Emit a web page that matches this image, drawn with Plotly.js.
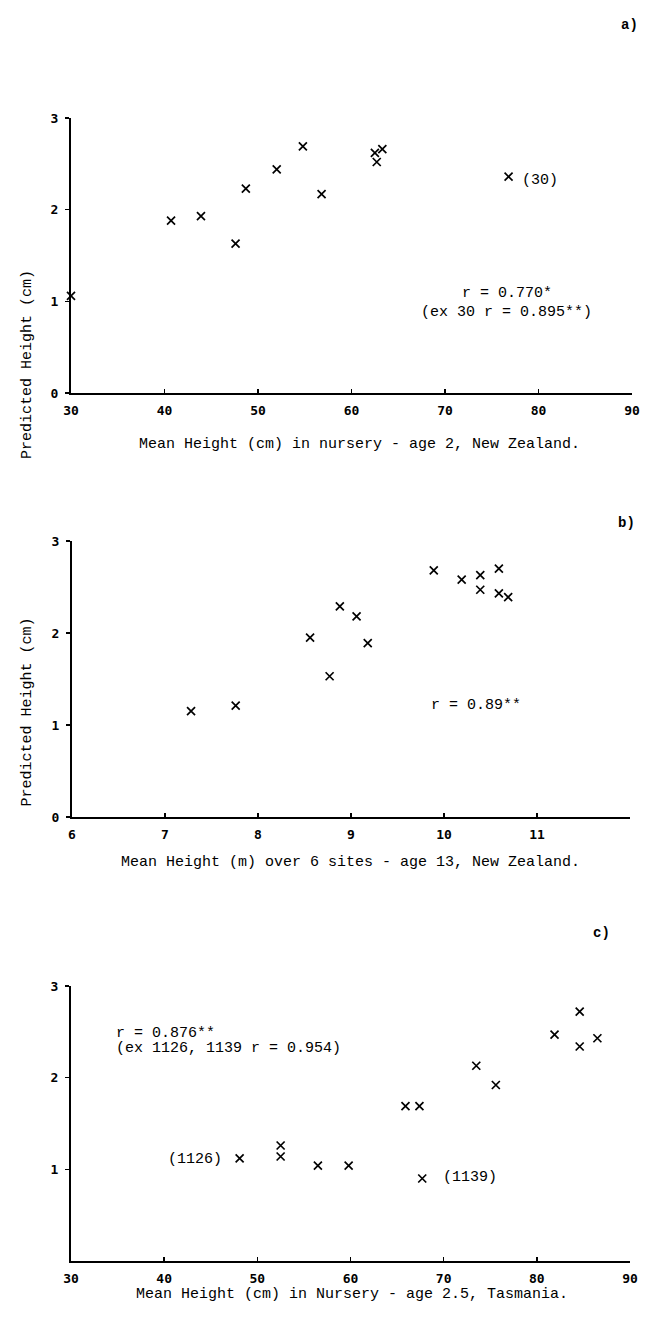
<!DOCTYPE html>
<html>
<head>
<meta charset="utf-8">
<script src="https://cdn.plot.ly/plotly-3.0.1.min.js"></script>
<style>html,body{margin:0;padding:0;background:#fff;}#chart{width:647px;height:1318px;}</style>
</head>
<body>
<div id="chart"></div>
<script>
// Panel a) nursery age 2, New Zealand
const aMeanHeight = [30, 40.7, 43.9, 47.6, 48.7, 52.0, 54.8, 56.8, 62.5, 63.3, 62.7, 76.8];
const aPredicted  = [1.06, 1.88, 1.93, 1.63, 2.23, 2.44, 2.69, 2.17, 2.62, 2.66, 2.52, 2.36];
// Panel b) over 6 sites age 13, New Zealand
const bMeanHeight = [7.28, 7.76, 8.56, 8.77, 8.88, 9.06, 9.18, 9.89, 10.19, 10.39, 10.39, 10.59, 10.59, 10.69];
const bPredicted  = [1.15, 1.21, 1.95, 1.53, 2.29, 2.18, 1.89, 2.68, 2.58, 2.63, 2.47, 2.70, 2.43, 2.39];
// Panel c) nursery age 2.5, Tasmania
const cMeanHeight = [48.1, 52.5, 52.5, 56.5, 59.8, 65.9, 67.4, 67.7, 73.5, 75.6, 81.9, 84.6, 84.6, 86.5];
const cPredicted  = [1.12, 1.26, 1.14, 1.04, 1.04, 1.69, 1.69, 0.90, 2.13, 1.92, 2.47, 2.72, 2.34, 2.43];

const aTicksX = [30, 40, 50, 60, 70, 80, 90];
const aTicksY = [0, 1, 2, 3];
const bTicksX = [6, 7, 8, 9, 10, 11, 12];
const bTickText = ['6', '7', '8', '9', '10', '11', ''];
const bTicksY = [0, 1, 2, 3];
const cTicksX = [30, 40, 50, 60, 70, 80, 90];
const cTicksY = [1, 2, 3];

const W = 647, H = 1318;
const px = v => v / W;
const py = v => 1 - v / H;

const MONO = 'Liberation Mono, Courier New, monospace';
const TICKF = {family: 'DejaVu Sans Mono, monospace', size: 13, color: '#000', weight: 'bold'};
const TXT = {family: MONO, size: 15, color: '#000'};

const mk = {symbol: 'x-thin-open', size: 8, color: '#000', line: {width: 1.7, color: '#000'}};

const traces = [
  {x: aMeanHeight, y: aPredicted, xaxis: 'x', yaxis: 'y', mode: 'markers', type: 'scatter', marker: mk, cliponaxis: false, showlegend: false},
  {x: bMeanHeight, y: bPredicted, xaxis: 'x2', yaxis: 'y2', mode: 'markers', type: 'scatter', marker: mk, cliponaxis: false, showlegend: false},
  {x: cMeanHeight, y: cPredicted, xaxis: 'x3', yaxis: 'y3', mode: 'markers', type: 'scatter', marker: mk, cliponaxis: false, showlegend: false}
];

function xax(domain, range, vals, text) {
  return {domain: domain, range: range, tickmode: 'array', tickvals: vals, ticktext: text || vals.map(String),
    showline: true, linecolor: '#000', linewidth: 2, ticks: 'inside', ticklen: 4, tickwidth: 1.5, tickcolor: '#000',
    showgrid: false, zeroline: false, tickfont: TICKF, ticklabelstandoff: 4, fixedrange: true};
}
function yax(domain, range, vals, anchor) {
  return {domain: domain, range: range, tickmode: 'array', tickvals: vals, anchor: anchor,
    showline: true, linecolor: '#000', linewidth: 2, ticks: 'outside', ticklen: 4, tickwidth: 1.5, tickcolor: '#000',
    showgrid: false, zeroline: false, tickfont: TICKF, ticklabelstandoff: 4, fixedrange: true};
}

const layout = {
  width: W, height: H,
  margin: {l: 0, r: 0, t: 0, b: 0},
  paper_bgcolor: '#fff', plot_bgcolor: '#fff',
  showlegend: false,
  xaxis:  Object.assign(xax([px(71), px(632)], [30, 90], aTicksX), {anchor: 'y'}),
  yaxis:  yax([py(393), py(118)], [0, 3], aTicksY, 'x'),
  xaxis2: Object.assign(xax([px(72), px(630)], [6, 12], bTicksX, bTickText), {anchor: 'y2'}),
  yaxis2: yax([py(817), py(541)], [0, 3], bTicksY, 'x2'),
  xaxis3: Object.assign(xax([px(71), px(630)], [30, 90], cTicksX), {anchor: 'y3'}),
  yaxis3: yax([py(1261), py(986)], [0, 3], cTicksY, 'x3'),
  annotations: [
    {text: 'a)', xref: 'paper', yref: 'paper', x: px(640), y: py(15), showarrow: false, font: {family: MONO, size: 14, color: '#000', weight: 'bold'}},
    {text: 'b)', xref: 'paper', yref: 'paper', x: px(637), y: py(523), showarrow: false, font: {family: MONO, size: 14, color: '#000', weight: 'bold'}},
    {text: 'c)', xref: 'paper', yref: 'paper', x: px(612), y: py(943), showarrow: false, font: {family: MONO, size: 14, color: '#000', weight: 'bold'}},

    {text: 'Predicted Height (cm)', xref: 'paper', yref: 'paper', x: px(17), y: py(268), textangle: -90, showarrow: false, font: TXT},
    {text: 'Predicted Height (cm)', xref: 'paper', yref: 'paper', x: px(17), y: py(712), textangle: -90, showarrow: false, font: TXT},

    {text: 'Mean Height (cm) in nursery - age 2, New Zealand.', xref: 'paper', yref: 'paper', x: px(359), y: py(445), showarrow: false, font: TXT},
    {text: 'Mean Height (m) over 6 sites - age 13, New Zealand.', xref: 'paper', yref: 'paper', x: px(350), y: py(862), showarrow: false, font: TXT},
    {text: 'Mean Height (cm) in Nursery - age 2.5, Tasmania.', xref: 'paper', yref: 'paper', x: px(352), y: py(1305), showarrow: false, font: TXT},

    {text: '(30)', xref: 'x', yref: 'y', x: 78.0, y: 2.32, xanchor: 'left', showarrow: false, font: TXT},
    {text: 'r = 0.770*', xref: 'x', yref: 'y', x: 76.6, y: 1.09, showarrow: false, font: TXT},
    {text: '(ex 30 r = 0.895**)', xref: 'x', yref: 'y', x: 76.6, y: 0.88, showarrow: false, font: TXT},

    {text: 'r = 0.89**', xref: 'x2', yref: 'y2', x: 10.34, y: 1.21, showarrow: false, font: TXT},

    {text: 'r = 0.876**', xref: 'x3', yref: 'y3', x: 34.6, y: 2.48, xanchor: 'left', showarrow: false, font: TXT},
    {text: '(ex 1126, 1139 r = 0.954)', xref: 'x3', yref: 'y3', x: 34.6, y: 2.32, xanchor: 'left', showarrow: false, font: TXT},
    {text: '(1126)', xref: 'x3', yref: 'y3', x: 46.4, y: 1.11, xanchor: 'right', showarrow: false, font: TXT},
    {text: '(1139)', xref: 'x3', yref: 'y3', x: 69.7, y: 0.91, xanchor: 'left', showarrow: false, font: TXT}
  ]
};

Plotly.newPlot('chart', traces, layout, {staticPlot: true, displayModeBar: false});
</script>
</body>
</html>
